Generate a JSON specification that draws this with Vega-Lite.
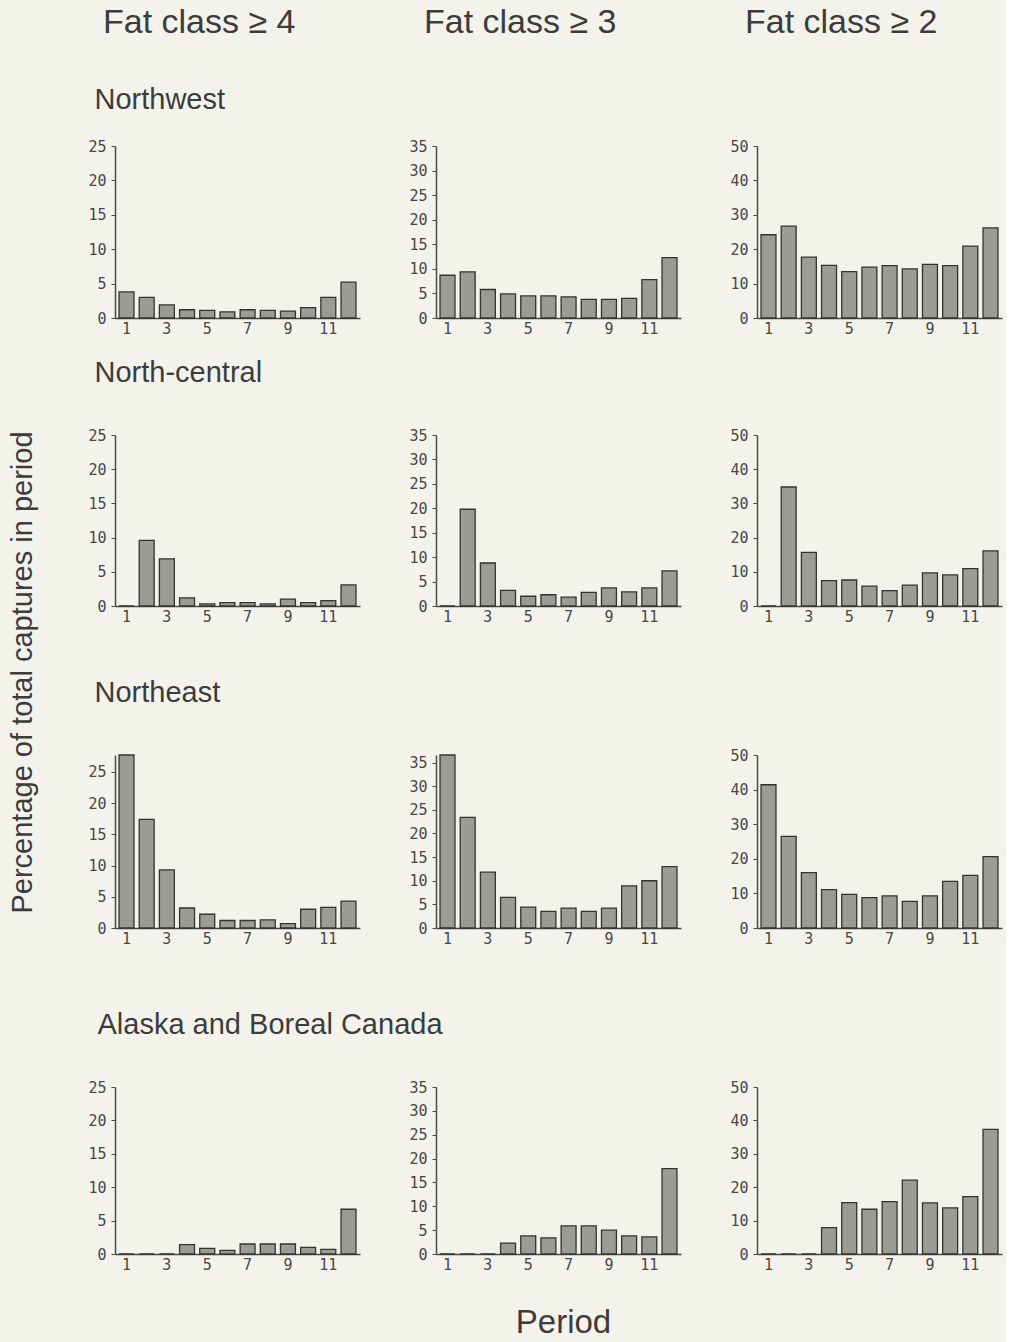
{
  "$schema": "https://vega.github.io/schema/vega-lite/v6.json",
  "background": "#f3f3eb",
  "padding": {"left": 8, "top": 6, "right": 4, "bottom": 4},
  "title": {"text": "Percentage of total captures in period", "orient": "left", "anchor": "middle", "fontSize": 29, "offset": 50},
  "config": {
    "view": {"stroke": null},
    "axis": {"labelFont": "DejaVu Sans Mono", "labelFontSize": 15, "labelColor": "#474747", "domainColor": "#4a4a4a", "domainWidth": 1.5, "tickColor": "#4a4a4a", "tickSize": 4, "grid": false, "titleFont": "Liberation Sans", "titleFontWeight": "normal", "titleColor": "#3c3c3c", "titleFontSize": 29},
    "axisX": {"ticks": false, "labelPadding": 3, "labelAngle": 0},
    "axisY": {"labelPadding": 5},
    "title": {"font": "Liberation Sans", "fontWeight": "normal", "color": "#3c3c3c"}
  },
  "datasets": {
    "nw4": [{"period":1,"pct":3.8},{"period":2,"pct":3.0},{"period":3,"pct":1.9},{"period":4,"pct":1.2},{"period":5,"pct":1.1},{"period":6,"pct":0.9},{"period":7,"pct":1.2},{"period":8,"pct":1.1},{"period":9,"pct":1.0},{"period":10,"pct":1.5},{"period":11,"pct":3.0},{"period":12,"pct":5.2}],
    "nw3": [{"period":1,"pct":8.7},{"period":2,"pct":9.4},{"period":3,"pct":5.8},{"period":4,"pct":4.9},{"period":5,"pct":4.5},{"period":6,"pct":4.5},{"period":7,"pct":4.3},{"period":8,"pct":3.8},{"period":9,"pct":3.8},{"period":10,"pct":4.0},{"period":11,"pct":7.8},{"period":12,"pct":12.3}],
    "nw2": [{"period":1,"pct":24.2},{"period":2,"pct":26.7},{"period":3,"pct":17.7},{"period":4,"pct":15.3},{"period":5,"pct":13.5},{"period":6,"pct":14.8},{"period":7,"pct":15.2},{"period":8,"pct":14.3},{"period":9,"pct":15.6},{"period":10,"pct":15.2},{"period":11,"pct":20.9},{"period":12,"pct":26.2}],
    "nc4": [{"period":1,"pct":0},{"period":2,"pct":9.6},{"period":3,"pct":6.9},{"period":4,"pct":1.2},{"period":5,"pct":0.3},{"period":6,"pct":0.5},{"period":7,"pct":0.5},{"period":8,"pct":0.3},{"period":9,"pct":1.0},{"period":10,"pct":0.5},{"period":11,"pct":0.8},{"period":12,"pct":3.1}],
    "nc3": [{"period":1,"pct":0},{"period":2,"pct":19.8},{"period":3,"pct":8.8},{"period":4,"pct":3.2},{"period":5,"pct":2.0},{"period":6,"pct":2.3},{"period":7,"pct":1.8},{"period":8,"pct":2.8},{"period":9,"pct":3.7},{"period":10,"pct":2.9},{"period":11,"pct":3.7},{"period":12,"pct":7.2}],
    "nc2": [{"period":1,"pct":0},{"period":2,"pct":34.8},{"period":3,"pct":15.7},{"period":4,"pct":7.4},{"period":5,"pct":7.6},{"period":6,"pct":5.8},{"period":7,"pct":4.5},{"period":8,"pct":6.1},{"period":9,"pct":9.7},{"period":10,"pct":9.1},{"period":11,"pct":10.9},{"period":12,"pct":16.1}],
    "ne4": [{"period":1,"pct":27.7},{"period":2,"pct":17.4},{"period":3,"pct":9.3},{"period":4,"pct":3.2},{"period":5,"pct":2.2},{"period":6,"pct":1.2},{"period":7,"pct":1.2},{"period":8,"pct":1.3},{"period":9,"pct":0.7},{"period":10,"pct":3.0},{"period":11,"pct":3.3},{"period":12,"pct":4.3}],
    "ne3": [{"period":1,"pct":36.6},{"period":2,"pct":23.4},{"period":3,"pct":11.8},{"period":4,"pct":6.5},{"period":5,"pct":4.4},{"period":6,"pct":3.5},{"period":7,"pct":4.2},{"period":8,"pct":3.5},{"period":9,"pct":4.2},{"period":10,"pct":8.9},{"period":11,"pct":10.0},{"period":12,"pct":13.0}],
    "ne2": [{"period":1,"pct":41.4},{"period":2,"pct":26.5},{"period":3,"pct":16.0},{"period":4,"pct":11.1},{"period":5,"pct":9.7},{"period":6,"pct":8.8},{"period":7,"pct":9.3},{"period":8,"pct":7.7},{"period":9,"pct":9.3},{"period":10,"pct":13.5},{"period":11,"pct":15.2},{"period":12,"pct":20.6}],
    "ak4": [{"period":1,"pct":0},{"period":2,"pct":0},{"period":3,"pct":0},{"period":4,"pct":1.4},{"period":5,"pct":0.85},{"period":6,"pct":0.55},{"period":7,"pct":1.5},{"period":8,"pct":1.5},{"period":9,"pct":1.5},{"period":10,"pct":1.0},{"period":11,"pct":0.7},{"period":12,"pct":6.7}],
    "ak3": [{"period":1,"pct":0},{"period":2,"pct":0},{"period":3,"pct":0},{"period":4,"pct":2.3},{"period":5,"pct":3.8},{"period":6,"pct":3.4},{"period":7,"pct":5.9},{"period":8,"pct":5.9},{"period":9,"pct":5.0},{"period":10,"pct":3.8},{"period":11,"pct":3.6},{"period":12,"pct":17.9}],
    "ak2": [{"period":1,"pct":0},{"period":2,"pct":0},{"period":3,"pct":0},{"period":4,"pct":7.9},{"period":5,"pct":15.4},{"period":6,"pct":13.4},{"period":7,"pct":15.7},{"period":8,"pct":22.1},{"period":9,"pct":15.3},{"period":10,"pct":13.8},{"period":11,"pct":17.2},{"period":12,"pct":37.3}]
  },
  "spacing": 41,
  "vconcat": [
    {
      "bounds": "flush", "spacing": 76,
      "hconcat": [
        {"width": 245, "height": 172,
         "title": {"text": "Fat class ≥ 4", "anchor": "start", "frame": "group", "dx": -12, "fontSize": 34, "offset": 45},
         "data": {"name": "nw4"},
         "mark": {"type": "bar", "fill": "#9c9c97", "stroke": "#333333", "strokeWidth": 1.3},
         "encoding": {
           "x": {"field": "period", "type": "ordinal", "scale": {"type": "band", "domain": [1,2,3,4,5,6,7,8,9,10,11,12], "paddingInner": 0.26, "paddingOuter": 0.2}, "axis": {"values": [1,3,5,7,9,11], "title": "North-central", "titleAngle": 0, "titleAlign": "left", "titleBaseline": "alphabetic", "titleX": -21, "titleY": 63}},
           "y": {"field": "pct", "type": "quantitative", "scale": {"domain": [0, 25], "nice": false}, "axis": {"values": [0,5,10,15,20,25], "title": "Northwest", "titleAngle": 0, "titleAlign": "left", "titleBaseline": "alphabetic", "titleX": -21, "titleY": -38}}
         }},
        {"width": 245, "height": 172,
         "title": {"text": "Fat class ≥ 3", "anchor": "start", "frame": "group", "dx": -12, "fontSize": 34, "offset": 99},
         "data": {"name": "nw3"},
         "mark": {"type": "bar", "fill": "#9c9c97", "stroke": "#333333", "strokeWidth": 1.3},
         "encoding": {
           "x": {"field": "period", "type": "ordinal", "scale": {"type": "band", "domain": [1,2,3,4,5,6,7,8,9,10,11,12], "paddingInner": 0.26, "paddingOuter": 0.2}, "axis": {"values": [1,3,5,7,9,11], "title": null}},
           "y": {"field": "pct", "type": "quantitative", "scale": {"domain": [0, 35], "nice": false}, "axis": {"values": [0,5,10,15,20,25,30,35], "title": null}}
         }},
        {"width": 245, "height": 172,
         "title": {"text": "Fat class ≥ 2", "anchor": "start", "frame": "group", "dx": -12, "fontSize": 34, "offset": 99},
         "data": {"name": "nw2"},
         "mark": {"type": "bar", "fill": "#9c9c97", "stroke": "#333333", "strokeWidth": 1.3},
         "encoding": {
           "x": {"field": "period", "type": "ordinal", "scale": {"type": "band", "domain": [1,2,3,4,5,6,7,8,9,10,11,12], "paddingInner": 0.26, "paddingOuter": 0.2}, "axis": {"values": [1,3,5,7,9,11], "title": null}},
           "y": {"field": "pct", "type": "quantitative", "scale": {"domain": [0, 50], "nice": false}, "axis": {"values": [0,10,20,30,40,50], "title": null}}
         }}
      ]
    },
    {
      "bounds": "flush", "spacing": 76,
      "hconcat": [
        {"width": 245, "height": 171,
         "data": {"name": "nc4"},
         "mark": {"type": "bar", "fill": "#9c9c97", "stroke": "#333333", "strokeWidth": 1.3},
         "encoding": {
           "x": {"field": "period", "type": "ordinal", "scale": {"type": "band", "domain": [1,2,3,4,5,6,7,8,9,10,11,12], "paddingInner": 0.26, "paddingOuter": 0.2}, "axis": {"values": [1,3,5,7,9,11], "title": "Northeast", "titleAngle": 0, "titleAlign": "left", "titleBaseline": "alphabetic", "titleX": -21, "titleY": 95}},
           "y": {"field": "pct", "type": "quantitative", "scale": {"domain": [0, 25], "nice": false}, "axis": {"values": [0,5,10,15,20,25], "title": null}}
         }},
        {"width": 245, "height": 171,
         "data": {"name": "nc3"},
         "mark": {"type": "bar", "fill": "#9c9c97", "stroke": "#333333", "strokeWidth": 1.3},
         "encoding": {
           "x": {"field": "period", "type": "ordinal", "scale": {"type": "band", "domain": [1,2,3,4,5,6,7,8,9,10,11,12], "paddingInner": 0.26, "paddingOuter": 0.2}, "axis": {"values": [1,3,5,7,9,11], "title": null}},
           "y": {"field": "pct", "type": "quantitative", "scale": {"domain": [0, 35], "nice": false}, "axis": {"values": [0,5,10,15,20,25,30,35], "title": null}}
         }},
        {"width": 245, "height": 171,
         "data": {"name": "nc2"},
         "mark": {"type": "bar", "fill": "#9c9c97", "stroke": "#333333", "strokeWidth": 1.3},
         "encoding": {
           "x": {"field": "period", "type": "ordinal", "scale": {"type": "band", "domain": [1,2,3,4,5,6,7,8,9,10,11,12], "paddingInner": 0.26, "paddingOuter": 0.2}, "axis": {"values": [1,3,5,7,9,11], "title": null}},
           "y": {"field": "pct", "type": "quantitative", "scale": {"domain": [0, 50], "nice": false}, "axis": {"values": [0,10,20,30,40,50], "title": null}}
         }}
      ]
    },
    {
      "bounds": "flush", "spacing": 76,
      "hconcat": [
        {"width": 245, "height": 173,
         "data": {"name": "ne4"},
         "mark": {"type": "bar", "fill": "#9c9c97", "stroke": "#333333", "strokeWidth": 1.3},
         "encoding": {
           "x": {"field": "period", "type": "ordinal", "scale": {"type": "band", "domain": [1,2,3,4,5,6,7,8,9,10,11,12], "paddingInner": 0.26, "paddingOuter": 0.2}, "axis": {"values": [1,3,5,7,9,11], "title": "Alaska and Boreal Canada", "titleAngle": 0, "titleAlign": "left", "titleBaseline": "alphabetic", "titleX": -18, "titleY": 105}},
           "y": {"field": "pct", "type": "quantitative", "scale": {"domain": [0, 27.7], "nice": false}, "axis": {"values": [0,5,10,15,20,25], "title": null}}
         }},
        {"width": 245, "height": 173,
         "data": {"name": "ne3"},
         "mark": {"type": "bar", "fill": "#9c9c97", "stroke": "#333333", "strokeWidth": 1.3},
         "encoding": {
           "x": {"field": "period", "type": "ordinal", "scale": {"type": "band", "domain": [1,2,3,4,5,6,7,8,9,10,11,12], "paddingInner": 0.26, "paddingOuter": 0.2}, "axis": {"values": [1,3,5,7,9,11], "title": null}},
           "y": {"field": "pct", "type": "quantitative", "scale": {"domain": [0, 36.6], "nice": false}, "axis": {"values": [0,5,10,15,20,25,30,35], "title": null}}
         }},
        {"width": 245, "height": 173,
         "data": {"name": "ne2"},
         "mark": {"type": "bar", "fill": "#9c9c97", "stroke": "#333333", "strokeWidth": 1.3},
         "encoding": {
           "x": {"field": "period", "type": "ordinal", "scale": {"type": "band", "domain": [1,2,3,4,5,6,7,8,9,10,11,12], "paddingInner": 0.26, "paddingOuter": 0.2}, "axis": {"values": [1,3,5,7,9,11], "title": null}},
           "y": {"field": "pct", "type": "quantitative", "scale": {"domain": [0, 50], "nice": false}, "axis": {"values": [0,10,20,30,40,50], "title": null}}
         }}
      ]
    },
    {
      "bounds": "flush", "spacing": 76,
      "hconcat": [
        {"width": 245, "height": 167,
         "data": {"name": "ak4"},
         "mark": {"type": "bar", "fill": "#9c9c97", "stroke": "#333333", "strokeWidth": 1.3},
         "encoding": {
           "x": {"field": "period", "type": "ordinal", "scale": {"type": "band", "domain": [1,2,3,4,5,6,7,8,9,10,11,12], "paddingInner": 0.26, "paddingOuter": 0.2}, "axis": {"values": [1,3,5,7,9,11], "title": null}},
           "y": {"field": "pct", "type": "quantitative", "scale": {"domain": [0, 25], "nice": false}, "axis": {"values": [0,5,10,15,20,25], "title": null}}
         }},
        {"width": 245, "height": 167,
         "data": {"name": "ak3"},
         "mark": {"type": "bar", "fill": "#9c9c97", "stroke": "#333333", "strokeWidth": 1.3},
         "encoding": {
           "x": {"field": "period", "type": "ordinal", "scale": {"type": "band", "domain": [1,2,3,4,5,6,7,8,9,10,11,12], "paddingInner": 0.26, "paddingOuter": 0.2}, "axis": {"values": [1,3,5,7,9,11], "title": "Period", "titleFontSize": 33, "titleAngle": 0, "titleAlign": "center", "titleBaseline": "alphabetic", "titleX": 127, "titleY": 78}},
           "y": {"field": "pct", "type": "quantitative", "scale": {"domain": [0, 35], "nice": false}, "axis": {"values": [0,5,10,15,20,25,30,35], "title": null}}
         }},
        {"width": 245, "height": 167,
         "data": {"name": "ak2"},
         "mark": {"type": "bar", "fill": "#9c9c97", "stroke": "#333333", "strokeWidth": 1.3},
         "encoding": {
           "x": {"field": "period", "type": "ordinal", "scale": {"type": "band", "domain": [1,2,3,4,5,6,7,8,9,10,11,12], "paddingInner": 0.26, "paddingOuter": 0.2}, "axis": {"values": [1,3,5,7,9,11], "title": null}},
           "y": {"field": "pct", "type": "quantitative", "scale": {"domain": [0, 50], "nice": false}, "axis": {"values": [0,10,20,30,40,50], "title": null}}
         }}
      ]
    }
  ]
}
